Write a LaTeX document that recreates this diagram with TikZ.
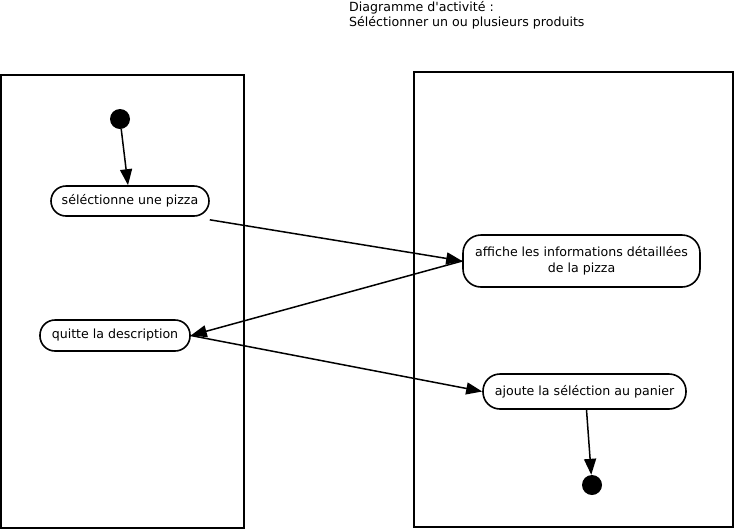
\documentclass[tikz,border=0pt]{standalone}
\usepackage{fontspec}
\setmainfont{DejaVu Sans}[Ligatures=TeXOff]
\usetikzlibrary{arrows.meta}
\begin{document}
\begin{tikzpicture}[x=1pt,y=-1pt,
  lane/.style={draw,line width=1.8pt},
  act/.style={draw,line width=1.6pt,rounded corners=15pt,inner sep=0pt,font=\fontsize{12.6}{16}\selectfont,align=center},
  dot/.style={circle,fill=black,inner sep=0pt,minimum size=20pt},
  flow/.style={line width=1.5pt,-{Triangle[length=16pt,width=12pt]}},
  lbl/.style={font=\fontsize{12.6}{15}\selectfont,align=left,inner sep=0pt,anchor=north west}]
\useasboundingbox (0,0) rectangle (735,531);
\fill[white] (0,0) rectangle (735,531);
\node[lbl] (title) at (349,1) {Diagramme d'activité :\\Séléctionner un ou plusieurs produits};
\draw[lane] (1,75) rectangle (244,528);
\draw[lane] (414,72) rectangle (733,527);
\node[dot] (start) at (120,119) {};
\node[act,minimum width=158pt,minimum height=30pt] (sel) at (130,201) {séléctionne une pizza};
\node[act,minimum width=237pt,minimum height=52pt,rounded corners=18pt] (aff) at (581.5,261) {affiche les informations détaillées\\de la pizza};
\node[act,minimum width=150pt,minimum height=31pt] (quit) at (115,335.5) {quitte la description};
\node[act,minimum width=203pt,minimum height=35pt,rounded corners=17pt] (ajo) at (584.5,391.5) {ajoute la séléction au panier};
\node[dot] (end) at (592,485) {};
\draw[flow] (start) -- ([xshift=-2pt]sel.north);
\draw[flow] ([yshift=-3pt]sel.south east) -- (aff.west);
\draw[flow] (aff.west) -- (quit.east);
\draw[flow] (quit.east) -- (ajo.west);
\draw[flow] ([xshift=2pt]ajo.south) -- (end);
\end{tikzpicture}
\end{document}
